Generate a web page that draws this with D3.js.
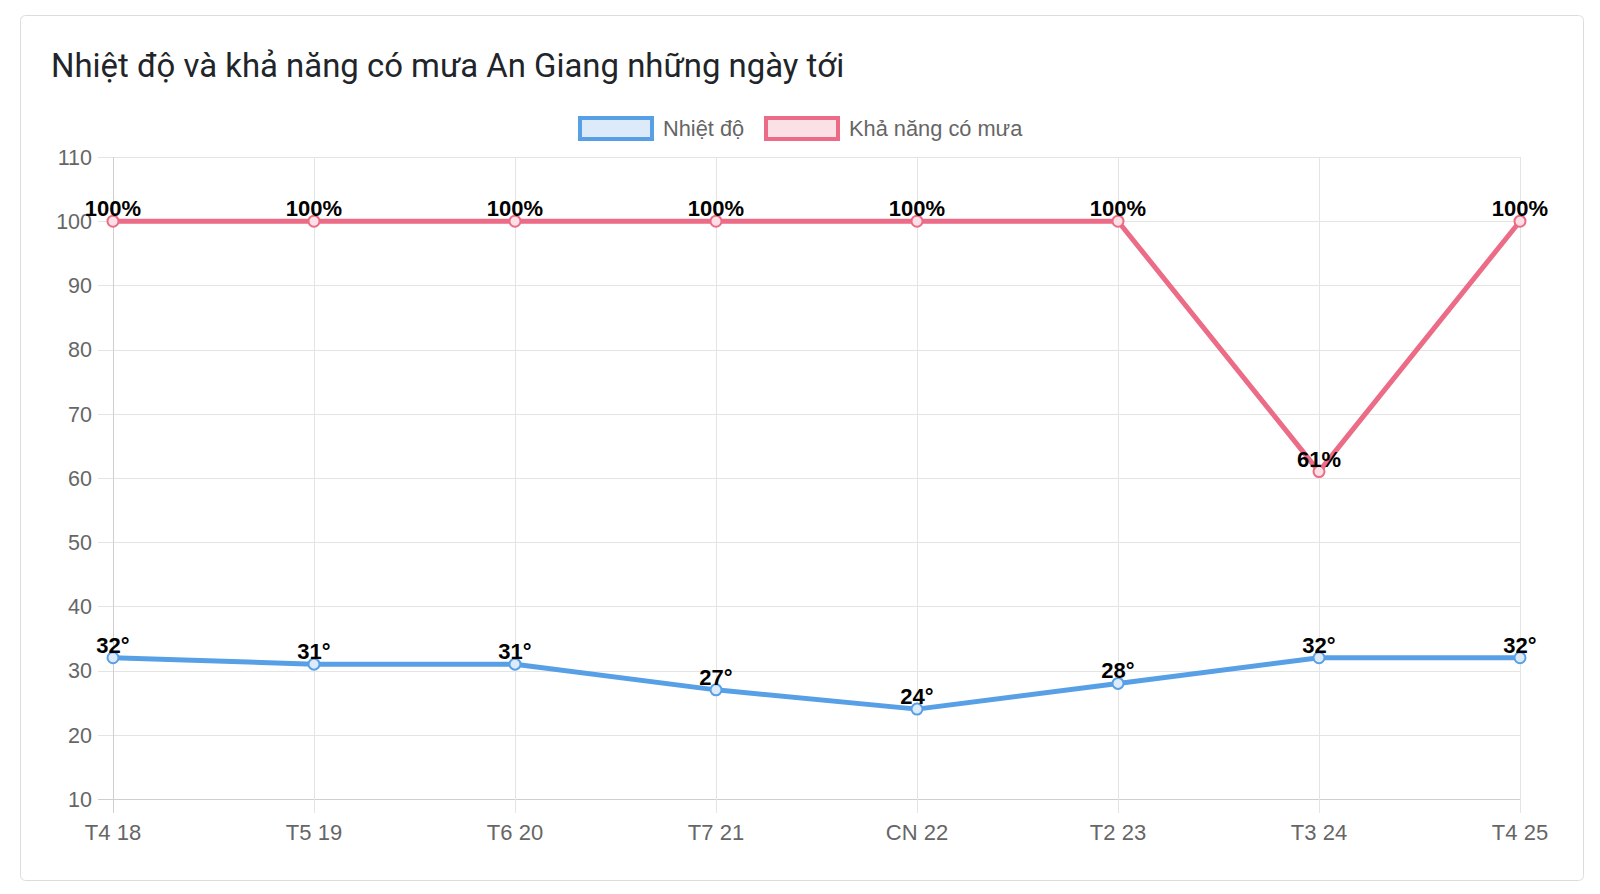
<!DOCTYPE html>
<html>
<head>
<meta charset="utf-8">
<script src="https://cdn.jsdelivr.net/npm/d3@7"></script>
<style>
  html, body { margin: 0; padding: 0; background: #fff; }
  svg { display: block; }
</style>
</head>
<body>
<div id="chart"></div>
<script>
  // Data
  const days = ['T4 18', 'T5 19', 'T6 20', 'T7 21', 'CN 22', 'T2 23', 'T3 24', 'T4 25'];
  const temperature = [32, 31, 31, 27, 24, 28, 32, 32];
  const rainChance = [100, 100, 100, 100, 100, 100, 61, 100];
  const yTicks = [10, 20, 30, 40, 50, 60, 70, 80, 90, 100, 110];
  const seriesNames = ['Nhiệt độ', 'Khả năng có mưa'];

  const WIDTH = 1600;
  const HEIGHT = 894;
  const plot = { left: 113, right: 1520, top: 157, bottom: 799 };
  const FONT = '"Liberation Sans", Helvetica, Arial, sans-serif';

  const series = [
    { name: seriesNames[0], values: temperature, color: '#58a0e6', fill: '#dceafa', fmt: (v) => `${v}°` },
    { name: seriesNames[1], values: rainChance, color: '#ec6b86', fill: '#fbe0e6', fmt: (v) => `${v}%` }
  ];

  const svg = d3.select('#chart').append('svg')
    .attr('width', WIDTH)
    .attr('height', HEIGHT);

  // card
  svg.append('rect')
    .attr('x', 20.5).attr('y', 15.5)
    .attr('width', 1563).attr('height', 865)
    .attr('rx', 5)
    .attr('fill', '#fff')
    .attr('stroke', '#dcdcdc');

  svg.append('text')
    .attr('x', 51).attr('y', 77)
    .attr('font-family', 'Roboto, "Helvetica Neue", Arial, sans-serif')
    .attr('font-size', 32.9)
    .attr('fill', '#212529')
    .text('Nhiệt độ và khả năng có mưa An Giang những ngày tới');

  // scales
  const x = d3.scalePoint().domain(days).range([plot.left, plot.right]);
  const y = d3.scaleLinear().domain([10, 110]).range([plot.bottom, plot.top]);

  // grid: horizontal
  svg.append('g')
    .selectAll('line')
    .data(yTicks)
    .join('line')
    .attr('x1', plot.left - 15).attr('x2', plot.right)
    .attr('y1', (d) => Math.round(y(d)) + 0.5).attr('y2', (d) => Math.round(y(d)) + 0.5)
    .attr('stroke', (d) => (d === 10 ? '#cfcfcf' : '#e4e4e4'))
    .attr('stroke-width', 1);

  // grid: vertical
  svg.append('g')
    .selectAll('line')
    .data(days)
    .join('line')
    .attr('x1', (d) => Math.round(x(d)) + 0.5).attr('x2', (d) => Math.round(x(d)) + 0.5)
    .attr('y1', plot.top).attr('y2', plot.bottom + 14)
    .attr('stroke', (d, i) => (i === 0 ? '#cfcfcf' : '#e4e4e4'))
    .attr('stroke-width', 1);

  // y labels
  svg.append('g')
    .selectAll('text')
    .data(yTicks)
    .join('text')
    .attr('x', 92)
    .attr('y', (d) => y(d))
    .attr('dy', '0.36em')
    .attr('text-anchor', 'end')
    .attr('font-family', FONT)
    .attr('font-size', 21.5)
    .attr('fill', '#666')
    .text((d) => d);

  // x labels
  svg.append('g')
    .selectAll('text')
    .data(days)
    .join('text')
    .attr('x', (d) => x(d))
    .attr('y', 840)
    .attr('text-anchor', 'middle')
    .attr('font-family', FONT)
    .attr('font-size', 22)
    .attr('fill', '#666')
    .text((d) => d);

  // lines + points
  const line = d3.line()
    .x((d, i) => x(days[i]))
    .y((d) => y(d));

  series.forEach((s) => {
    const g = svg.append('g');
    g.append('path')
      .datum(s.values)
      .attr('d', line)
      .attr('fill', 'none')
      .attr('stroke', s.color)
      .attr('stroke-width', 5)
      .attr('stroke-linejoin', 'round');

    g.selectAll('circle')
      .data(s.values)
      .join('circle')
      .attr('cx', (d, i) => x(days[i]))
      .attr('cy', (d) => y(d))
      .attr('r', 5.5)
      .attr('fill', s.fill)
      .attr('stroke', s.color)
      .attr('stroke-width', 2);

    g.selectAll('text')
      .data(s.values)
      .join('text')
      .attr('x', (d, i) => x(days[i]))
      .attr('y', (d) => y(d) - 5)
      .attr('text-anchor', 'middle')
      .attr('font-family', FONT)
      .attr('font-size', 22)
      .attr('font-weight', 'bold')
      .attr('fill', '#000')
      .text((d) => s.fmt(d));
  });

  // legend
  const legendItems = [
    { box: 578, text: 663 },
    { box: 764, text: 849 }
  ];
  const legend = svg.append('g');
  series.forEach((s, i) => {
    legend.append('rect')
      .attr('x', legendItems[i].box + 2)
      .attr('y', 118)
      .attr('width', 72)
      .attr('height', 21)
      .attr('fill', s.fill)
      .attr('stroke', s.color)
      .attr('stroke-width', 4);
    legend.append('text')
      .attr('x', legendItems[i].text)
      .attr('y', 128.5)
      .attr('dy', '0.36em')
      .attr('font-family', FONT)
      .attr('font-size', 21.8)
      .attr('fill', '#666')
      .text(s.name);
  });
</script>
</body>
</html>
